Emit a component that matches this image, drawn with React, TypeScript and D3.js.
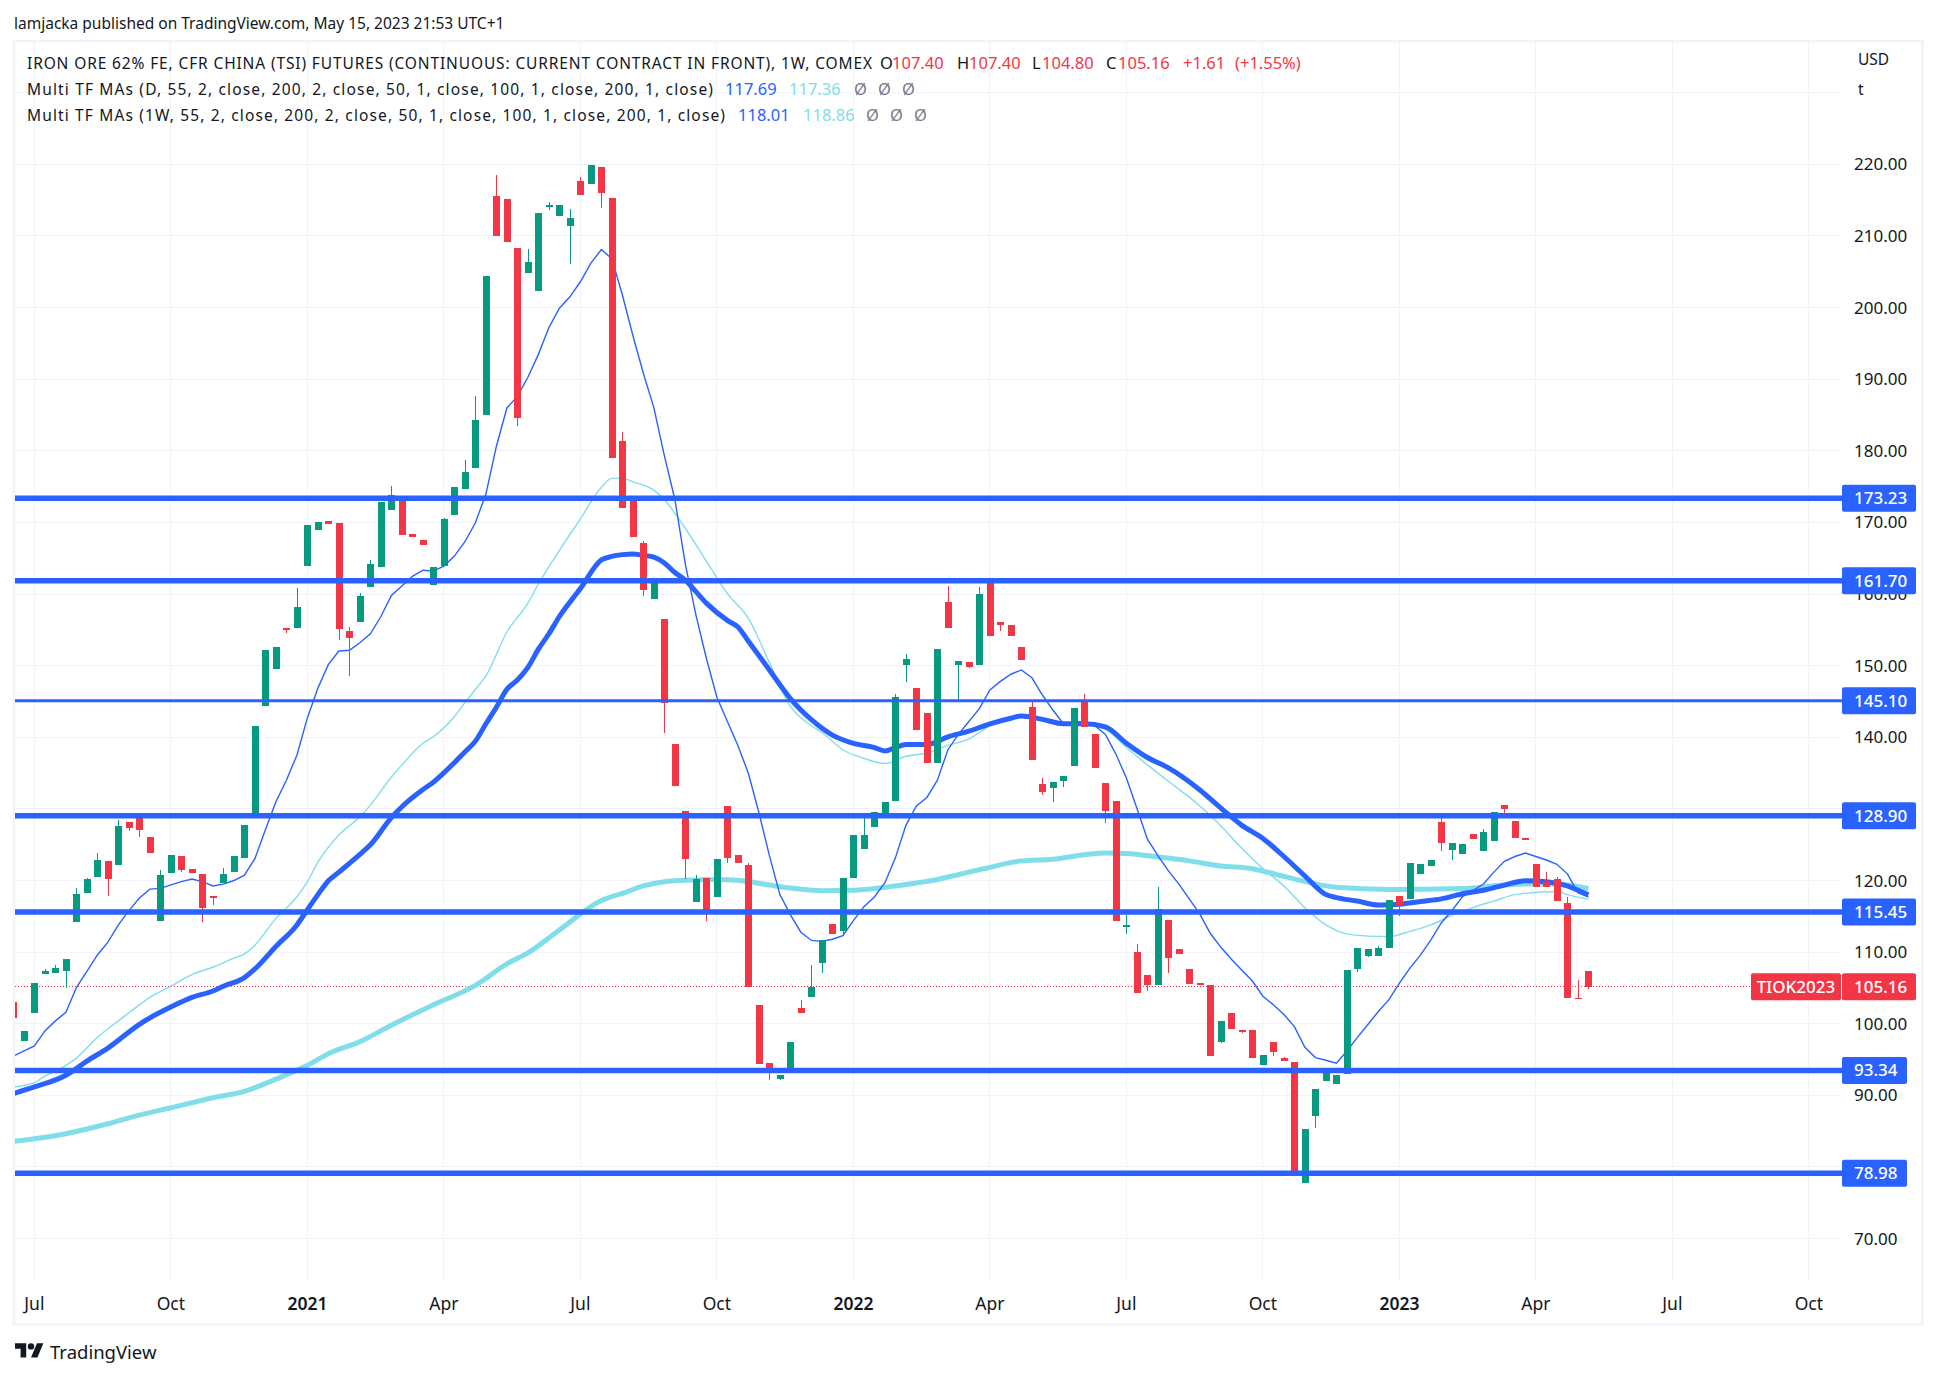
import React from "react"
import * as d3 from "d3"

// weekly candles, first bar is two weeks before the Jul 2020 tick
const firstBar = -2
const candleOpen = [
  103.06, 97.57, 101.49, 106.93, 107.11, 107.35, 114.23, 118.27, 120.51, 122.74,
  122.14, 128.18, 129.08, 126.06, 114.35, 121.05, 123.41, 121.6, 120.93, 117.79,
  119.72, 121.17, 123.16, 129.26, 144.35, 149.54, 155.25, 155.25, 163.91, 168.93,
  170.16, 169.9, 154.83, 156.06, 160.97, 163.75, 171.7, 173.74, 168.35, 167.55,
  161.24, 163.91, 171.02, 174.65, 177.59, 185.02, 215.59, 215.16, 208.32, 204.79,
  202.28, 214.09, 212.76, 211.37, 217.67, 217.24, 219.6, 215.27, 181.33, 173.74,
  167.12, 159.26, 156.48, 139.04, 129.68, 117.01, 120.33, 117.67, 130.41, 123.59,
  122.14, 102.64, 94.49, 92.25, 93.46, 102.22, 103.73, 108.49, 113.93, 112.96,
  120.33, 124.37, 127.45, 128.72, 131.07, 150.07, 146.87, 143.39, 136.39, 158.89,
  150.07, 150.5, 150.07, 162, 156.05, 155.68, 152.58, 144.19, 133.49, 132.88,
  133.91, 135.96, 144.94, 140.43, 133.61, 131.07, 113.56, 110, 106.8, 105.42,
  114.47, 110.43, 107.65, 105.72, 105.42, 97.45, 101.49, 99.14, 99.14, 94.25,
  97.45, 95.15, 94.67, 77.77, 87.12, 92.01, 91.53, 93.04, 107.65, 109.46,
  109.46, 110.55, 117.85, 117.43, 120.93, 121.96, 128.18, 124.25, 123.71, 126.49,
  124.13, 125.52, 130.53, 128.3, 126, 122.26, 119.84, 120.15, 116.89, 103.66,
  107.4,
]
const candleHigh = [
  103.06, 99.02, 105.72, 107.65, 108.2, 109.04, 118.94, 120.3, 123.83, 122.74,
  128.42, 128.18, 129.08, 126.06, 121.47, 123.59, 123.41, 121.6, 120.93, 117.79,
  121.72, 123.41, 127.75, 141.58, 152.15, 152.58, 155.25, 160.87, 169.63, 170.06,
  170.16, 169.9, 155.36, 160.12, 164.71, 172.84, 175.08, 173.74, 168.35, 167.55,
  163.75, 170.6, 174.92, 178.71, 187.64, 204.42, 218.53, 215.16, 208.32, 208.16,
  213.18, 214.73, 214.3, 213.77, 218.21, 219.92, 219.6, 215.27, 182.6, 173.74,
  167.39, 161.93, 156.48, 139.04, 129.68, 120.75, 120.33, 122.98, 130.41, 123.59,
  122.5, 102.64, 94.49, 92.86, 97.45, 103.3, 108.19, 111.69, 113.93, 120.33,
  126.36, 128.78, 129.56, 130.95, 146, 151.62, 146.87, 143.39, 152.31, 161.08,
  150.6, 150.5, 160.97, 162, 156.05, 155.68, 152.58, 145, 134.33, 133.73,
  134.57, 144.08, 146, 140.43, 133.61, 131.07, 115.2, 111.15, 106.8, 119.12,
  114.47, 110.5, 107.65, 105.72, 105.42, 100.41, 101.49, 99.14, 99.14, 95.7,
  97.45, 95.33, 94.67, 85.31, 90.87, 93.4, 92.8, 107.53, 110.55, 110.37,
  110.85, 117.25, 117.85, 122.44, 122.26, 122.86, 128.78, 125.22, 125.04, 126.49,
  127.21, 129.56, 130.53, 128.3, 126, 122.26, 121.17, 120.45, 117.67, 106.08,
  107.4,
]
const candleLow = [
  100.83, 97.57, 101.49, 106.93, 107.11, 105.05, 114.23, 118.27, 120.51, 117.85,
  122.14, 126.9, 126.06, 123.83, 114.35, 121.05, 121.17, 121.05, 114.23, 116.58,
  119.72, 121.17, 123.16, 129.26, 144.35, 149.54, 154.56, 155.25, 163.91, 168.93,
  169.74, 153.54, 148.57, 156.06, 160.97, 163.75, 171.7, 168.24, 167.97, 166.85,
  161.24, 163.91, 171.02, 174.65, 177.59, 185.02, 210.03, 209.12, 183.52, 204.79,
  202.28, 213.66, 212.76, 206.07, 215.7, 217.24, 213.88, 178.98, 171.98, 167.97,
  159.69, 159.26, 140.61, 133.19, 120.15, 117.01, 114.35, 117.67, 122.44, 122.44,
  105.17, 94.37, 92.13, 92.13, 93.46, 101.55, 103.73, 107.1, 112.54, 112.3,
  120.33, 124.37, 127.45, 128.72, 131.07, 147.72, 140.99, 136.39, 136.39, 155.26,
  145.1, 149.64, 150.07, 154.13, 154.83, 154.13, 150.77, 136.81, 131.92, 130.95,
  133.07, 135.96, 141.46, 135.72, 128.05, 114.35, 112.54, 104.27, 104.63, 105.42,
  107.1, 109.76, 105.54, 105.42, 95.52, 97.35, 99.26, 98.7, 95.2, 94.25,
  95.52, 94.85, 79.4, 77.77, 85.43, 92.01, 91.53, 93.04, 107.29, 109.34,
  109.46, 110.55, 115, 117.43, 120.93, 121.96, 124.13, 122.86, 123.71, 125.82,
  124.13, 125.52, 129.08, 125.94, 125.7, 119.12, 119.12, 117.13, 103.6, 103.54,
  104.8,
]
const candleClose = [
  100.83, 99.02, 105.72, 107.35, 107.77, 109.04, 118.1, 120.21, 122.86, 120.21,
  127.63, 127.27, 127.03, 123.83, 120.75, 123.59, 121.47, 121.05, 116.1, 117.49,
  120.93, 123.41, 127.75, 141.58, 152.15, 152.58, 154.93, 158.19, 169.63, 170.06,
  169.74, 155.1, 153.87, 159.69, 164.18, 172.84, 173.8, 168.24, 167.97, 166.85,
  163.75, 170.49, 174.92, 177, 184.27, 204.42, 210.03, 209.12, 184.59, 206.34,
  213.18, 214.3, 214.3, 212.49, 215.7, 219.92, 215.96, 178.98, 171.98, 167.97,
  160.55, 161.93, 144.83, 133.19, 123.04, 120.21, 115.8, 122.98, 123.16, 122.44,
  105.17, 94.37, 93.46, 92.86, 97.45, 101.55, 105.17, 111.69, 112.54, 120.33,
  126.36, 126.36, 129.56, 130.95, 145.58, 150.92, 140.99, 136.39, 152.31, 155.26,
  150.6, 149.8, 160.01, 154.13, 155.68, 154.13, 150.77, 136.81, 132.34, 133.73,
  134.57, 144.08, 141.46, 135.72, 129.68, 114.35, 113.81, 104.27, 105.42, 116.04,
  109.16, 109.76, 105.54, 105.42, 95.52, 100.41, 99.26, 98.9, 95.2, 95.7,
  96, 94.85, 79.4, 85.31, 90.87, 93.16, 92.8, 107.53, 110.55, 110.37,
  110.55, 117.25, 116.58, 122.44, 122.26, 122.86, 125.22, 125.22, 125.04, 125.82,
  126.79, 129.56, 129.99, 125.94, 125.7, 119.12, 119.12, 117.13, 103.6, 103.54,
  105.16,
]

// moving averages as [bar, value]
const maDaily55: [number, number][] = [
  [-2, 95.5], [0, 96.9], [1, 99], [2, 100.4], [3, 101.6], [4, 105.05], [5, 107.3], [6, 109.6], [7, 111.4], [8, 113.8],
  [9, 115.8], [10, 117.55], [11, 118.8], [12, 118.9], [13, 119.4], [14, 119.85], [15, 120.2], [16, 119.85], [17, 119.24], [18, 119.5],
  [19, 120], [20, 120.75], [21, 123.04], [22, 127.1], [23, 131], [24, 134], [25, 137.5], [26, 142.7], [27, 146.86], [28, 150.18],
  [29, 152.05], [30, 152.15], [31, 153.2], [32, 154.45], [33, 156.86], [34, 159.8], [35, 161.13], [36, 162.47], [37, 163.32], [38, 163.2],
  [39, 163.9], [40, 165.3], [41, 167.3], [42, 169.95], [43, 173.96], [44, 180.64], [45, 185.98], [46, 187.6], [47, 190.26], [48, 193.46],
  [49, 197.2], [50, 199.9], [51, 201.5], [52, 203.6], [53, 206.2], [54, 208.1], [55, 206.8], [56, 201.75], [57, 196.1], [58, 190.8],
  [59, 186], [60, 179.3], [61, 173.2], [62, 164.1], [63, 157.1], [64, 151], [65, 145.6], [66, 142.2], [67, 138.86], [68, 134.94],
  [69, 129.5], [70, 123.47], [71, 118.03], [72, 115.2], [73, 112.78], [74, 111.63], [75, 111.5], [76, 111.8], [77, 112.3], [78, 114.4],
  [79, 116.34], [80, 117.7], [81, 119.7], [82, 123.16], [83, 127.7], [84, 130.4], [85, 131.6], [86, 134], [87, 138.26], [88, 140.4],
  [89, 142.2], [90, 144], [91, 146.6], [92, 147.8], [93, 148.8], [94, 149.4], [95, 148.3], [96, 145.9], [97, 143.8], [98, 141.9],
  [99, 142.06], [100, 142.2], [101, 141.6], [102, 140.4], [103, 137.65], [104, 134.3], [105, 130.1], [106, 125.76], [107, 123.47], [108, 121.35],
  [109, 119.5], [110, 117.4], [111, 115.3], [112, 112.6], [113, 110.67], [114, 109], [115, 107.47], [116, 105.96], [117, 103.85], [118, 102.64],
  [119, 101.3], [120, 99.6], [121, 96.7], [122, 95.27], [123, 94.9], [124, 94.5], [125, 96.2], [126, 98.1], [127, 99.9], [128, 101.7],
  [129, 103.36], [130, 105.66], [131, 107.77], [132, 109.58], [133, 111.7], [134, 114.1], [135, 115.8], [136, 117.73], [137, 118.6], [138, 119.5],
  [139, 121.17], [140, 122.68], [141, 123.35], [142, 123.83], [143, 123.35], [144, 122.86], [145, 122.26], [146, 120.93], [147, 118.3], [148, 117.69],
]
const maDaily200: [number, number][] = [
  [-2, 91.17], [0, 91.77], [1, 92.68], [3, 94.19], [4, 95.2], [6, 98.11], [8, 100.4], [10, 102.64], [11, 103.67], [13, 105.24],
  [15, 106.87], [17, 107.89], [19, 109.16], [20, 109.76], [21, 110.97], [23, 114.71], [25, 117.73], [26, 119.84], [27, 122.56], [29, 126.36],
  [31, 128.9], [32, 130.53], [34, 134.45], [35, 136.14], [37, 139.16], [38, 140.07], [40, 142.9], [41, 144.83], [42, 146.7], [43, 148.57],
  [45, 154.7], [47, 158.73], [48, 161.4], [50, 166.1], [52, 170.5], [54, 174.9], [55, 176.15], [56, 176.15], [57, 175.67], [59, 174.5],
  [60, 173.16], [61, 171.3], [62, 169.15], [64, 164.6], [66, 160.06], [68, 156.6], [70, 150.44], [72, 144.3], [74, 141.6], [75, 140.67],
  [77, 138.26], [79, 137.05], [81, 136.33], [83, 137.35], [85, 137.77], [87, 138.86], [89, 139.77], [91, 141.58], [93, 142.66], [94, 143.2],
  [96, 142.5], [98, 141.9], [100, 141.76], [102, 141.1], [104, 138.56], [106, 136.14], [108, 133.85], [111, 130.4], [113, 127.6], [115, 124.5],
  [117, 121.66], [119, 119.24], [121, 116.2], [123, 113.8], [125, 112.54], [127, 112.24], [129, 112.18], [131, 112.9], [133, 113.8], [135, 115.14],
  [137, 116.22], [139, 117.13], [141, 118.03], [142, 118.2], [145, 118.46], [146, 118.03], [147, 117.67], [148, 117.36],
]
const maWeekly55: [number, number][] = [
  [-2, 90.26], [0, 91.17], [3, 92.8], [5, 94.79], [7, 96.6], [10, 99.92], [11, 100.83], [13, 102.34], [15, 103.67], [17, 104.57],
  [18, 105.24], [20, 106.44], [21, 107.65], [23, 110.79], [25, 113.8], [26, 115.92], [27, 118.03], [28, 119.97], [29, 121.17], [31, 123.65],
  [32, 124.98], [34, 128.78], [35, 130.29], [37, 132.7], [38, 133.73], [40, 136.45], [41, 137.96], [42, 139.46], [43, 141.88], [44, 144.2],
  [45, 146.7], [46, 148], [47, 149.75], [48, 152.3], [49, 154.45], [50, 156.86], [52, 160.76], [54, 164.77], [55, 165.25], [56, 165.5],
  [57, 165.6], [58, 165.4], [59, 165.14], [60, 164.34], [61, 163], [62, 161.93], [63, 160.33], [64, 158.73], [66, 156.32], [67, 155.4],
  [68, 153.4], [70, 149.4], [72, 145.4], [73, 143.8], [74, 142.45], [76, 140.3], [78, 139.16], [80, 138.56], [81, 138.08], [82, 138.56],
  [83, 138.98], [85, 138.98], [87, 140.07], [89, 140.85], [91, 141.88], [93, 142.66], [94, 142.97], [96, 142.5], [98, 141.9], [100, 141.9],
  [102, 141.46], [104, 139.16], [106, 137.17], [108, 135.72], [111, 132.64], [113, 130.1], [115, 127.7], [117, 125.88], [119, 123.35], [121, 120.63],
  [123, 118.03], [124, 117.61], [126, 117.13], [128, 116.58], [130, 116.7], [132, 117.07], [134, 117.43], [136, 118.15], [138, 118.64], [140, 119.36],
  [142, 119.97], [144, 119.84], [146, 119.24], [147, 118.64], [148, 118.01],
]
const maWeekly200: [number, number][] = [
  [-2, 83.56], [3, 84.65], [7, 86.04], [10, 87.25], [13, 88.27], [17, 89.66], [20, 90.57], [23, 92.26], [26, 94.19], [28, 95.82],
  [31, 97.5], [34, 99.8], [38, 102.64], [42, 105.36], [45, 108.37], [47, 109.88], [50, 113.08], [54, 117.2], [56, 118.2], [58, 119.24],
  [60, 119.84], [62, 120.03], [65, 120.15], [67, 120.03], [70, 119.36], [72, 118.94], [75, 118.58], [78, 118.64], [81, 119.06], [84, 119.66],
  [86, 120.15], [89, 121.17], [91, 121.84], [94, 122.74], [97, 122.98], [100, 123.59], [102, 123.83], [104, 123.77], [107, 123.29], [110, 122.74],
  [113, 122.02], [116, 121.65], [119, 120.57], [124, 119.06], [129, 118.76], [136, 118.88], [140, 119.36], [143, 119.54], [146, 119.36], [148, 118.86],
]

const priceTicks = [220, 210, 200, 190, 180, 170, 160, 150, 140, 130, 120, 110, 100, 90, 80, 70]
const gridOnly = [230]
const timeTickBars = [0, 13, 26, 39, 52, 65, 78, 91, 104, 117, 130, 143, 156, 169]
const timeTickLabels = ["Jul", "Oct", "2021", "Apr", "Jul", "Oct", "2022", "Apr", "Jul", "Oct", "2023", "Apr", "Jul", "Oct"]
const levelValues = [173.23, 161.7, 145.1, 128.9, 115.45, 93.34, 78.98]
const levelWidths = [5.5, 5.5, 3, 5.5, 5.5, 5.5, 5.5]
const lastClose = 105.16

const GREEN = "#089981"
const RED = "#F23645"
const BLUE = "#2962FF"
const CYAN = "#80DEEA"
const INK = "#131722"
const GRID = "#F0F3FA"
const FONT = "'Noto Sans', sans-serif"

const plot = { left: 15, right: 1842, top: 41, bottom: 1282 }

const x = d3.scaleLinear().domain([0, 169]).range([34.4, 1808.9])
const y = d3.scaleLinear().domain([220, 70]).range([164.3, 1238.6])
const fmt = d3.format(".2f")

// the thick lines sit a pixel above the scale, same as their labels
const levelY = (v: number, i: number) => y(v) - (levelWidths[i] > 4 ? 1 : 0)

const maPath = d3.line<[number, number]>()
  .x(d => x(d[0]))
  .y(d => y(d[1]))
const maSmooth = d3.line<[number, number]>()
  .x(d => x(d[0]))
  .y(d => y(d[1]))
  .curve(d3.curveMonotoneX)

const legendRows = [
  { y: 64, parts: [
    { x: 27, t: "IRON ORE 62% FE, CFR CHINA (TSI) FUTURES (CONTINUOUS: CURRENT CONTRACT IN FRONT), 1W, COMEX", c: INK, len: 845 },
    { x: 880, t: "O", c: INK }, { x: 892, t: "107.40", c: RED },
    { x: 957, t: "H", c: INK }, { x: 969, t: "107.40", c: RED },
    { x: 1032, t: "L", c: INK }, { x: 1042, t: "104.80", c: RED },
    { x: 1106, t: "C", c: INK }, { x: 1118, t: "105.16", c: RED },
    { x: 1183, t: "+1.61", c: RED }, { x: 1235, t: "(+1.55%)", c: RED },
  ] },
  { y: 90, parts: [
    { x: 27, t: "Multi TF MAs (D, 55, 2, close, 200, 2, close, 50, 1, close, 100, 1, close, 200, 1, close)", c: INK, len: 686 },
    { x: 725, t: "117.69", c: BLUE }, { x: 789, t: "117.36", c: CYAN },
    { x: 854, t: "Ø", c: "#787B86" }, { x: 878, t: "Ø", c: "#787B86" }, { x: 902, t: "Ø", c: "#787B86" },
  ] },
  { y: 116, parts: [
    { x: 27, t: "Multi TF MAs (1W, 55, 2, close, 200, 2, close, 50, 1, close, 100, 1, close, 200, 1, close)", c: INK, len: 698 },
    { x: 738, t: "118.01", c: BLUE }, { x: 803, t: "118.86", c: CYAN },
    { x: 866, t: "Ø", c: "#787B86" }, { x: 890, t: "Ø", c: "#787B86" }, { x: 914, t: "Ø", c: "#787B86" },
  ] },
]

export default function App() {
  const candleWidth = 7
  return (
    <svg width={1938} height={1378} style={{ position: "absolute", left: 0, top: 0, background: "#fff" }} fontFamily={FONT}>
      <defs>
        <clipPath id="plot-clip">
          <rect x={plot.left} y={plot.top} width={plot.right - plot.left} height={plot.bottom - plot.top} />
        </clipPath>
      </defs>

      <text x={14} y={29} fontSize={15.5} fill={INK}>lamjacka published on TradingView.com, May 15, 2023 21:53 UTC+1</text>

      {/* grid */}
      <g stroke={GRID} strokeWidth={1} shapeRendering="crispEdges">
        {[...gridOnly, ...priceTicks].map(v => <line key={v} x1={plot.left} x2={plot.right} y1={y(v)} y2={y(v)} />)}
        {timeTickBars.map(b => <line key={b} x1={x(b)} x2={x(b)} y1={plot.top} y2={plot.bottom} />)}
      </g>

      {/* frame */}
      <rect x={14} y={41} width={1908.5} height={1283.5} fill="none" stroke={GRID} strokeWidth={2.5} />

      <g clipPath="url(#plot-clip)">
        <line x1={plot.left} x2={plot.right} y1={y(lastClose)} y2={y(lastClose)} stroke={RED} strokeWidth={1} strokeDasharray="1 2" shapeRendering="crispEdges" />

        <path d={maSmooth(maWeekly200) ?? ""} fill="none" stroke={CYAN} strokeWidth={5} />
        <path d={maSmooth(maDaily200) ?? ""} fill="none" stroke={CYAN} strokeWidth={1.4} />
        <path d={maSmooth(maWeekly55) ?? ""} fill="none" stroke={BLUE} strokeWidth={5} />
        <path d={maPath(maDaily55) ?? ""} fill="none" stroke={BLUE} strokeWidth={1.4} />

        {candleOpen.map((o, i) => {
          const c = candleClose[i]
          const cx = Math.round(x(i + firstBar))
          const color = c >= o ? GREEN : RED
          const top = y(Math.max(o, c))
          const bottom = y(Math.min(o, c))
          return (
            <g key={i} shapeRendering="crispEdges" fill={color}>
              <rect x={cx} y={y(candleHigh[i])} width={1} height={y(candleLow[i]) - y(candleHigh[i])} />
              <rect x={cx - (candleWidth - 1) / 2} y={top} width={candleWidth} height={Math.max(bottom - top, 1)} />
            </g>
          )
        })}

        {levelValues.map((v, i) => (
          <line key={v} x1={plot.left} x2={plot.right} y1={levelY(v, i)} y2={levelY(v, i)} stroke={BLUE} strokeWidth={levelWidths[i]} />
        ))}
      </g>

      {legendRows.map(r => r.parts.map((p, i) => (
        <text key={r.y + "-" + i} x={p.x} y={r.y + 5} fontSize={p.len ? 15.5 : 16.5} fill={p.c}
          textLength={p.len} lengthAdjust={p.len ? "spacing" : undefined}>{p.t}</text>
      )))}

      {/* price axis */}
      <text x={1858} y={65} fontSize={15.5} fill={INK}>USD</text>
      <text x={1858} y={95} fontSize={15.5} fill={INK}>t</text>
      {priceTicks.map(v => (
        <text key={v} x={1854} y={y(v) + 6} fontSize={17} fill={INK}>{fmt(v)}</text>
      ))}

      {levelValues.map((v, i) => {
        const label = fmt(v)
        return (
          <g key={v}>
            <rect x={plot.right} y={levelY(v, i) - 13.5} width={label.length > 5 ? 74 : 65} height={27} rx={2} fill={BLUE} />
            <text x={1854} y={levelY(v, i) + 6} fontSize={17} fontWeight={500} fill="#fff">{label}</text>
          </g>
        )
      })}

      <rect x={1751} y={y(lastClose) - 13.5} width={90} height={27} rx={2} fill={RED} />
      <text x={1796} y={y(lastClose) + 6} fontSize={17} fontWeight={500} fill="#fff" textAnchor="middle">TIOK2023</text>
      <rect x={plot.right} y={y(lastClose) - 13.5} width={74} height={27} rx={2} fill={RED} />
      <text x={1854} y={y(lastClose) + 6} fontSize={17} fontWeight={500} fill="#fff">{fmt(lastClose)}</text>

      {/* time axis */}
      {timeTickBars.map((b, i) => (
        <text key={b} x={x(b)} y={1310} fontSize={17.5} textAnchor="middle" fill={INK}
          fontWeight={timeTickLabels[i].length === 4 ? 600 : 400}>{timeTickLabels[i]}</text>
      ))}

      {/* logo */}
      <g transform="translate(15,1340) scale(0.8)" fill={INK}>
        <path d="M14 22H7V11H0V4h14v18zM28 22h-8l7.5-18h8L28 22z" />
        <circle cx={20} cy={8} r={4} />
      </g>
      <text x={50} y={1359} fontSize={18.5} fill={INK}>TradingView</text>
    </svg>
  )
}
